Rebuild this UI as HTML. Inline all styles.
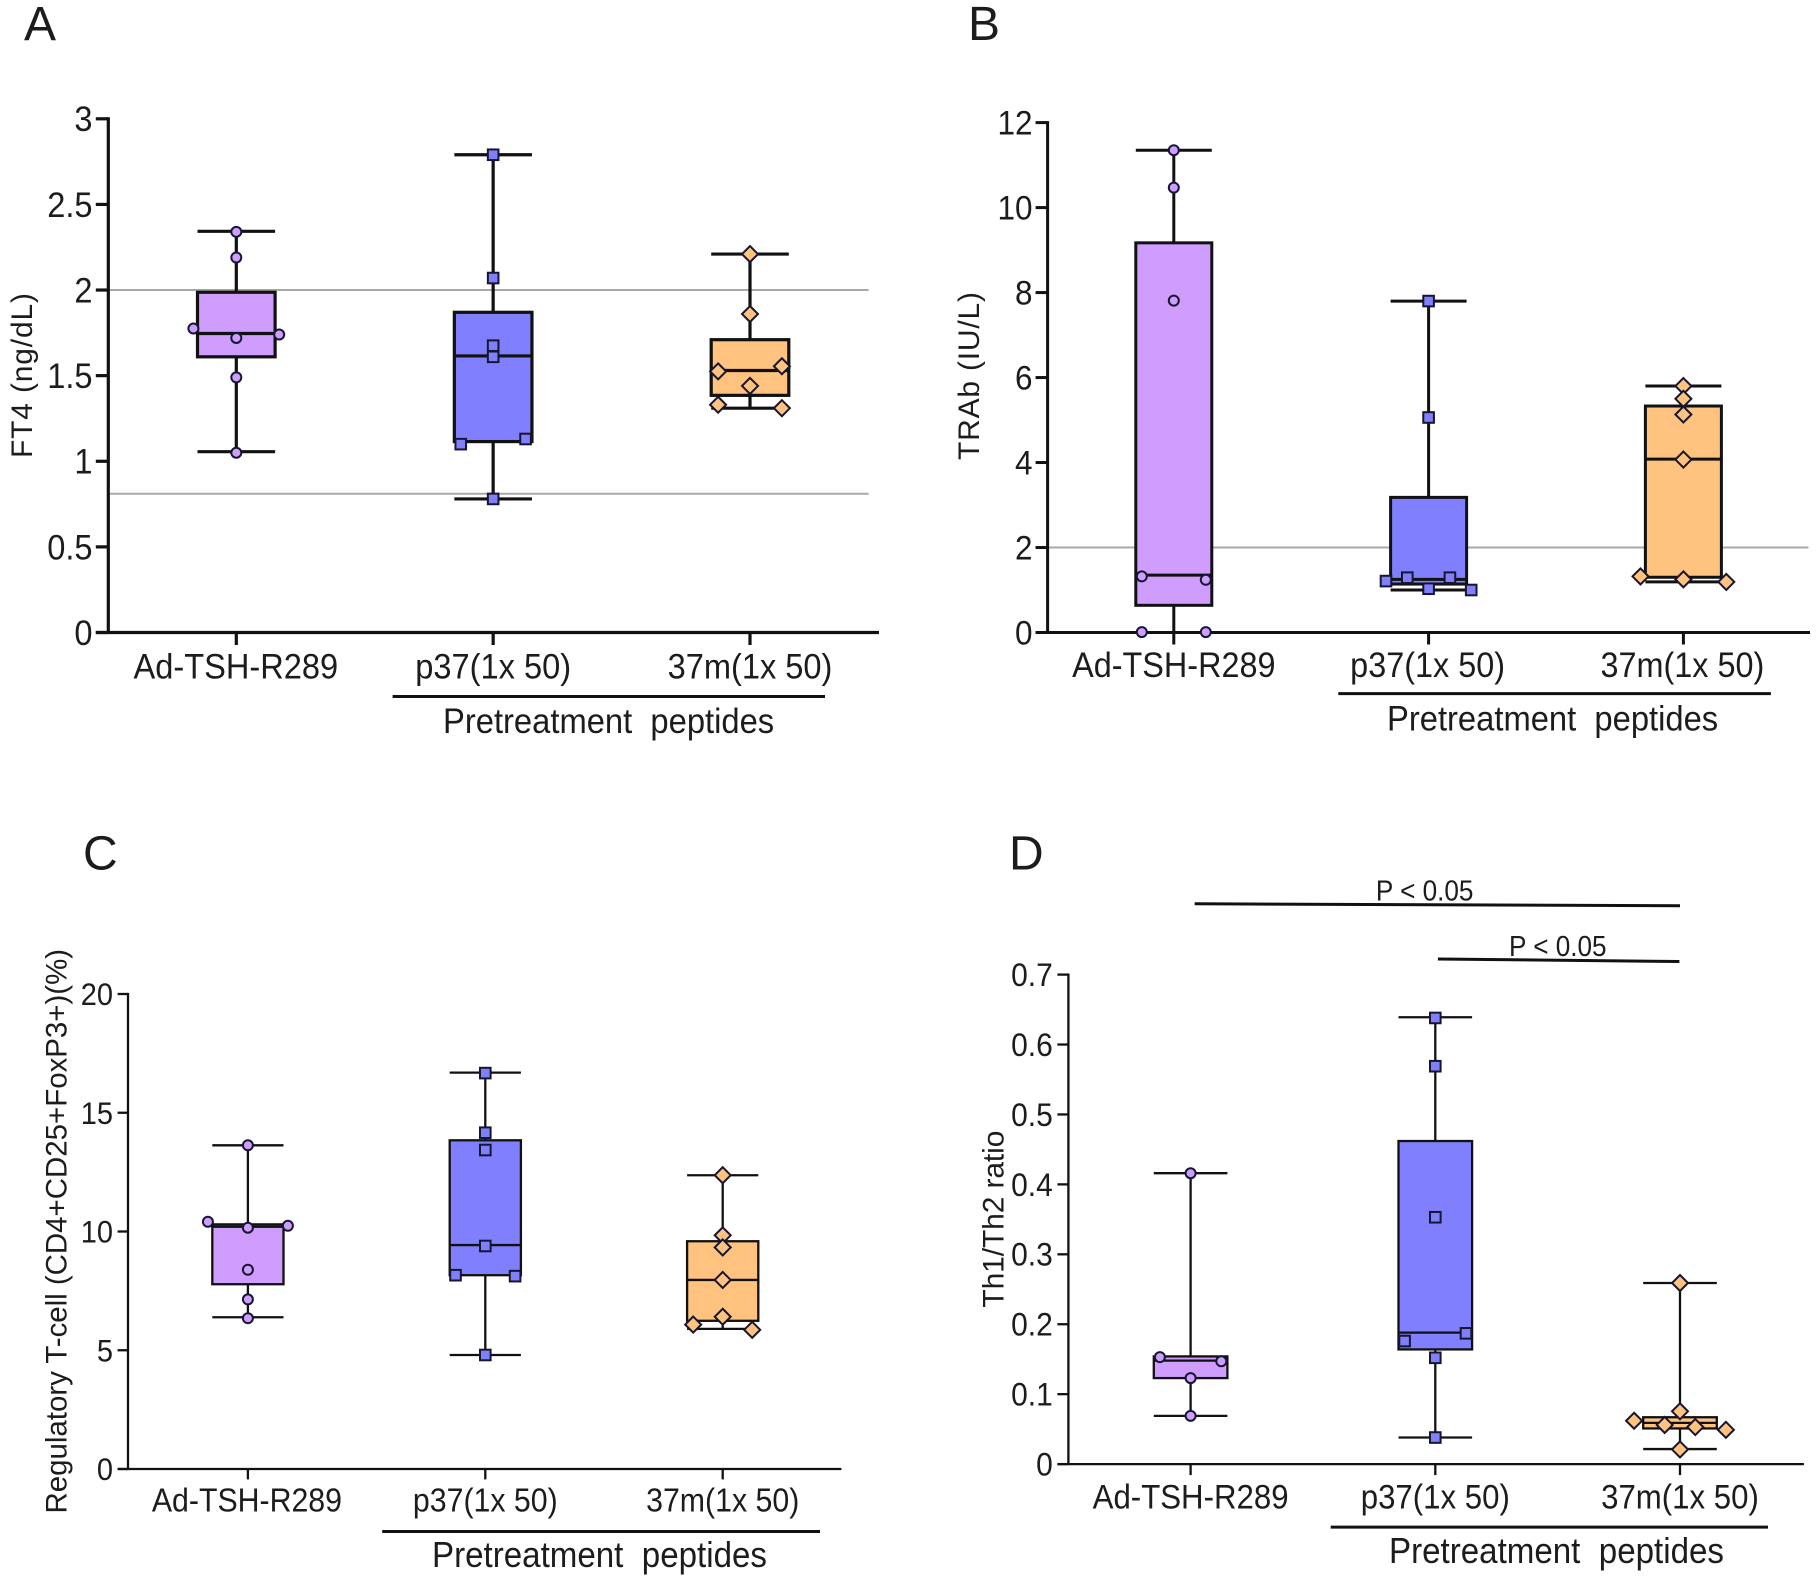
<!DOCTYPE html>
<html lang="en">
<head>
<meta charset="utf-8">
<title>Box plots of FT4, TRAb, regulatory T-cell and Th1/Th2 ratio</title>
<style>
html,body{margin:0;padding:0;background:#fff;}
svg{display:block;}
text{font-family:"Liberation Sans",sans-serif;fill:#1c1c1c;white-space:pre;}
</style>
</head>
<body>
<svg id="figure" xmlns="http://www.w3.org/2000/svg" width="1816" height="1578" viewBox="0 0 1816 1578">
  <rect width="1816" height="1578" fill="#fff"/>
  <g id="panel-a">
    <text x="24" y="40" font-size="48">A</text>
    <text transform="translate(32,458) rotate(-90)" font-size="30" textLength="165" lengthAdjust="spacing">FT4 (ng/dL)</text>
    <line x1="392.6" y1="696.5" x2="825" y2="696.5" stroke="#111" stroke-width="3"/>
    <text transform="translate(443,733) scale(.92,1)" font-size="35.6">Pretreatment  peptides</text>
  </g>
  <g id="panel-b">
    <text x="968" y="40" font-size="48">B</text>
    <text transform="translate(979,460) rotate(-90)" font-size="30" textLength="168" lengthAdjust="spacing">TRAb (IU/L)</text>
    <line x1="1338.3" y1="693.6" x2="1770.9" y2="693.6" stroke="#111" stroke-width="3"/>
    <text transform="translate(1387,730.7) scale(.92,1)" font-size="35.6">Pretreatment  peptides</text>
  </g>
  <g id="panel-c">
    <text x="83" y="869.5" font-size="48">C</text>
    <text transform="translate(66.6,1513.5) rotate(-90)" font-size="29.5" textLength="564.6" lengthAdjust="spacing">Regulatory T-cell (CD4+CD25+FoxP3+)(%)</text>
    <line x1="382.2" y1="1531.5" x2="820" y2="1531.5" stroke="#111" stroke-width="3"/>
    <text transform="translate(432,1566.9) scale(.92,1)" font-size="36">Pretreatment  peptides</text>
  </g>
  <g id="panel-d">
    <text x="1009" y="869.5" font-size="48">D</text>
    <text transform="translate(1003.6,1307.6) rotate(-90)" font-size="30" textLength="177" lengthAdjust="spacing">Th1/Th2 ratio</text>
    <line x1="1330.7" y1="1527.1" x2="1768" y2="1527.1" stroke="#111" stroke-width="3"/>
    <text transform="translate(1389,1563) scale(.92,1)" font-size="36">Pretreatment  peptides</text>
    <line x1="1194.7" y1="903.8" x2="1680" y2="905.7" stroke="#111" stroke-width="3"/>
    <text transform="translate(1375.9,900.4) scale(.92,1)" font-size="28.4">P &lt; 0.05</text>
    <line x1="1437.9" y1="959" x2="1679.4" y2="961.5" stroke="#111" stroke-width="3"/>
    <text transform="translate(1509,956.2) scale(.92,1)" font-size="28.4">P &lt; 0.05</text>
  </g>
</svg>
<script>
/* Shared categories */
const categories = ['Ad-TSH-R289', 'p37(1x 50)', '37m(1x 50)'];

/* Panel A: FT4 (ng/dL) */
const aTicks = [0, 0.5, 1, 1.5, 2, 2.5, 3];
const aTickLabels = ['0', '0.5', '1', '1.5', '2', '2.5', '3'];
const aRefLines = [2.0, 0.81];
const aWhiskerLow = [1.056, 0.78, 1.31];
const aQ1 = [1.61, 1.115, 1.385];
const aMedian = [1.746, 1.615, 1.53];
const aQ3 = [1.987, 1.87, 1.71];
const aWhiskerHigh = [2.343, 2.79, 2.21];
const aPoints = [
  [2.34, 2.19, 1.775, 1.72, 1.74, 1.49, 1.05],
  [2.79, 2.07, 1.675, 1.61, 1.10, 1.13, 0.78],
  [2.21, 1.86, 1.525, 1.555, 1.44, 1.33, 1.31]
];
const aSlots = [
  [0, 0, -1, 0, 1, 0, 0],
  [0, 0, 0, 0, -1, 1, 0],
  [0, 0, -1, 1, 0, -1, 1]
];

/* Panel B: TRAb (IU/L) */
const bTicks = [0, 2, 4, 6, 8, 10, 12];
const bTickLabels = ['0', '2', '4', '6', '8', '10', '12'];
const bRefLines = [2.0];
const bWhiskerLow = [0, 1.0, 1.19];
const bQ1 = [0.64, 1.14, 1.3];
const bMedian = [1.35, 1.25, 4.08];
const bQ3 = [9.17, 3.18, 5.33];
const bWhiskerHigh = [11.35, 7.8, 5.8];
const bPoints = [
  [11.35, 10.47, 7.81, 1.32, 1.24, 0.01, 0.01],
  [7.8, 5.06, 1.29, 1.29, 1.21, 1.03, 1.0],
  [5.8, 5.5, 5.13, 4.07, 1.32, 1.25, 1.19]
];
const bSlots = [
  [0, 0, 0, -1, 1, -1, 1],
  [0, 0, -1, 1, -2, 0, 2],
  [0, 0, 0, 0, -1, 0, 1]
];

/* Panel C: Regulatory T-cell (%) */
const cTicks = [0, 5, 10, 15, 20];
const cTickLabels = ['0', '5', '10', '15', '20'];
const cRefLines = [];
const cWhiskerLow = [6.39, 4.8, 5.9];
const cQ1 = [7.78, 8.16, 6.24];
const cMedian = [10.2, 9.43, 7.96];
const cQ3 = [10.3, 13.84, 9.59];
const cWhiskerHigh = [13.63, 16.69, 12.37];
const cPoints = [
  [13.63, 10.41, 10.16, 10.24, 8.39, 7.14, 6.35],
  [16.67, 14.16, 13.43, 9.39, 8.16, 8.12, 4.8],
  [12.37, 9.84, 9.33, 7.96, 6.41, 6.08, 5.86]
];
const cSlots = [
  [0, -1, 0, 1, 0, 0, 0],
  [0, 0, 0, 0, -1, 1, 0],
  [0, 0, 0, 0, 0, -1, 1]
];

/* Panel D: Th1/Th2 ratio */
const dTicks = [0, 0.1, 0.2, 0.3, 0.4, 0.5, 0.6, 0.7];
const dTickLabels = ['0', '0.1', '0.2', '0.3', '0.4', '0.5', '0.6', '0.7'];
const dRefLines = [];
const dWhiskerLow = [0.069, 0.038, 0.0215];
const dQ1 = [0.123, 0.164, 0.051];
const dMedian = [0.148, 0.188, 0.059];
const dQ3 = [0.154, 0.462, 0.067];
const dWhiskerHigh = [0.416, 0.639, 0.259];
const dPoints = [
  [0.416, 0.153, 0.147, 0.123, 0.069],
  [0.638, 0.569, 0.353, 0.176, 0.187, 0.152, 0.038],
  [0.259, 0.0755, 0.062, 0.056, 0.053, 0.049, 0.021]
];
const dSlots = [
  [0, -1, 1, 0, 0],
  [0, 0, 0, -1, 1, 0, 0],
  [0, 0, -3, -1, 1, 3, 0]
];

const groupFill = ['#cf9dfd', '#8080ff', '#ffc27f'];
const groupKey = ['ad-tsh-r289', 'p37', '37m'];
const NS = 'http://www.w3.org/2000/svg';
const INK = '#111';
const SQUEEZE = 0.92;

function svgEl(parent, tag, props) {
  const el = document.createElementNS(NS, tag);
  for (const k in props) el.setAttribute(k, props[k]);
  parent.appendChild(el);
  return el;
}

function drawPanel(panel, d, geo) {
  const root = document.getElementById('panel-' + panel);
  const g = svgEl(root, 'g', {});
  
  

  const yMax = d.ticks[d.ticks.length - 1];
  const yScale = v => geo.y0 + (geo.yTop - geo.y0) * (v / yMax);
  const xScale = i => geo.cx0 + i * geo.step;
  const sw = geo.lw;

  d.refs.forEach(v => {
    const ref = svgEl(g, 'line', {x1: geo.x0, x2: geo.refEnd, y1: yScale(v), y2: yScale(v), stroke: '#a9a9a9', 'stroke-width': 2});
    
    
  });

  const yAxis = svgEl(g, 'line', {x1: geo.x0, x2: geo.x0, y1: geo.yTop - sw / 2, y2: geo.y0, stroke: INK, 'stroke-width': sw});
  
  
  const xAxis = svgEl(g, 'line', {x1: geo.x0 - geo.tick, x2: geo.xEnd, y1: geo.y0, y2: geo.y0, stroke: INK, 'stroke-width': sw});
  
  

  d.ticks.forEach((v, i) => {
    const t = svgEl(g, 'line', {x1: geo.x0 - geo.tick, x2: geo.x0, y1: yScale(v), y2: yScale(v), stroke: INK, 'stroke-width': sw});
    
    
    const size = geo.tickFont / SQUEEZE;
    const lab = svgEl(g, 'text', {transform: 'translate(' + geo.tickLabelX + ',' + (yScale(v) + size * 0.35) + ') scale(' + SQUEEZE + ',1)', 'text-anchor': 'end', 'font-size': size});
    lab.textContent = d.tickLabels[i];
    
    
  });

  categories.forEach((name, i) => {
    const cx = xScale(i);
    const fill = groupFill[i];
    const hw = geo.boxHalf;
    const key = groupKey[i];

    const t = svgEl(g, 'line', {x1: cx, x2: cx, y1: geo.y0, y2: geo.y0 + geo.tick, stroke: INK, 'stroke-width': sw});
    
    
    const lab = svgEl(g, 'text', {transform: 'translate(' + (cx + geo.xLabelShift[i]) + ',' + geo.xLabelY + ') scale(' + SQUEEZE + ',1)', 'text-anchor': 'middle', 'font-size': geo.xFont / SQUEEZE});
    lab.textContent = name;
    
    

    const whisker = svgEl(g, 'line', {x1: cx, x2: cx, y1: yScale(d.high[i]), y2: yScale(d.low[i]), stroke: INK, 'stroke-width': sw});
    
    
    const capHigh = svgEl(g, 'line', {x1: cx - hw, x2: cx + hw, y1: yScale(d.high[i]), y2: yScale(d.high[i]), stroke: INK, 'stroke-width': sw});
    
    
    const capLow = svgEl(g, 'line', {x1: cx - hw, x2: cx + hw, y1: yScale(d.low[i]), y2: yScale(d.low[i]), stroke: INK, 'stroke-width': sw});
    
    

    const box = svgEl(g, 'rect', {x: cx - hw, width: 2 * hw, y: yScale(d.q3[i]), height: yScale(d.q1[i]) - yScale(d.q3[i]), fill: fill, stroke: INK, 'stroke-width': sw});
    
    
    const med = svgEl(g, 'line', {x1: cx - hw, x2: cx + hw, y1: yScale(d.median[i]), y2: yScale(d.median[i]), stroke: INK, 'stroke-width': sw});
    
    

    d.points[i].forEach((v, j) => {
      const px = cx + d.slots[i][j] * geo.spread[i];
      const py = yScale(v);
      let m;
      if (i === 0) {
        m = svgEl(g, 'circle', {cx: px, cy: py, r: 5});
      } else if (i === 1) {
        m = svgEl(g, 'rect', {x: px - 5.3, y: py - 5.3, width: 10.6, height: 10.6});
      } else {
        m = svgEl(g, 'polygon', {points: [px, py - 8, px + 8, py, px, py + 8, px - 8, py].join(' ')});
      }
      m.setAttribute('fill', fill);
      m.setAttribute('stroke', '#161630');
      m.setAttribute('stroke-width', 2);
      
      
    });
  });
}

drawPanel('a',
  {ticks: aTicks, tickLabels: aTickLabels, refs: aRefLines, low: aWhiskerLow, q1: aQ1, median: aMedian, q3: aQ3, high: aWhiskerHigh, points: aPoints, slots: aSlots},
  {x0: 108.3, xEnd: 879, y0: 632.5, yTop: 118.8, refEnd: 868.7, cx0: 236.3, step: 256.85, boxHalf: 38.8, lw: 3.2, tick: 12.5, tickLabelX: 92.5, tickFont: 32.6, xFont: 32.6, xLabelY: 678.3, xLabelShift: [-0.5, 0, 0], spread: [42.9, 32.4, 31.9]});
drawPanel('b',
  {ticks: bTicks, tickLabels: bTickLabels, refs: bRefLines, low: bWhiskerLow, q1: bQ1, median: bMedian, q3: bQ3, high: bWhiskerHigh, points: bPoints, slots: bSlots},
  {x0: 1047.6, xEnd: 1810, y0: 632.5, yTop: 122.6, refEnd: 1808.5, cx0: 1173.8, step: 254.8, boxHalf: 38, lw: 3, tick: 12, tickLabelX: 1032.5, tickFont: 31.5, xFont: 32.4, xLabelY: 676.8, xLabelShift: [0, -1, -1], spread: [32, 21.3, 42.9]});
drawPanel('c',
  {ticks: cTicks, tickLabels: cTickLabels, refs: cRefLines, low: cWhiskerLow, q1: cQ1, median: cMedian, q3: cQ3, high: cWhiskerHigh, points: cPoints, slots: cSlots},
  {x0: 128, xEnd: 841.4, y0: 1469, yTop: 994, refEnd: 841, cx0: 247.9, step: 237.4, boxHalf: 35.6, lw: 2.3, tick: 10.4, tickLabelX: 113, tickFont: 29, xFont: 30.3, xLabelY: 1511.5, xLabelShift: [-1, 0, 0], spread: [40, 29.8, 29.5]});
drawPanel('d',
  {ticks: dTicks, tickLabels: dTickLabels, refs: dRefLines, low: dWhiskerLow, q1: dQ1, median: dMedian, q3: dQ3, high: dWhiskerHigh, points: dPoints, slots: dSlots},
  {x0: 1068.4, xEnd: 1803.9, y0: 1464.1, yTop: 974.6, refEnd: 1803, cx0: 1190.6, step: 244.7, boxHalf: 36.8, lw: 2.3, tick: 11, tickLabelX: 1052.8, tickFont: 30, xFont: 31.2, xLabelY: 1508.3, xLabelShift: [0, 0, 0], spread: [30.7, 30.7, 15.3]});
</script>
</body>
</html>
